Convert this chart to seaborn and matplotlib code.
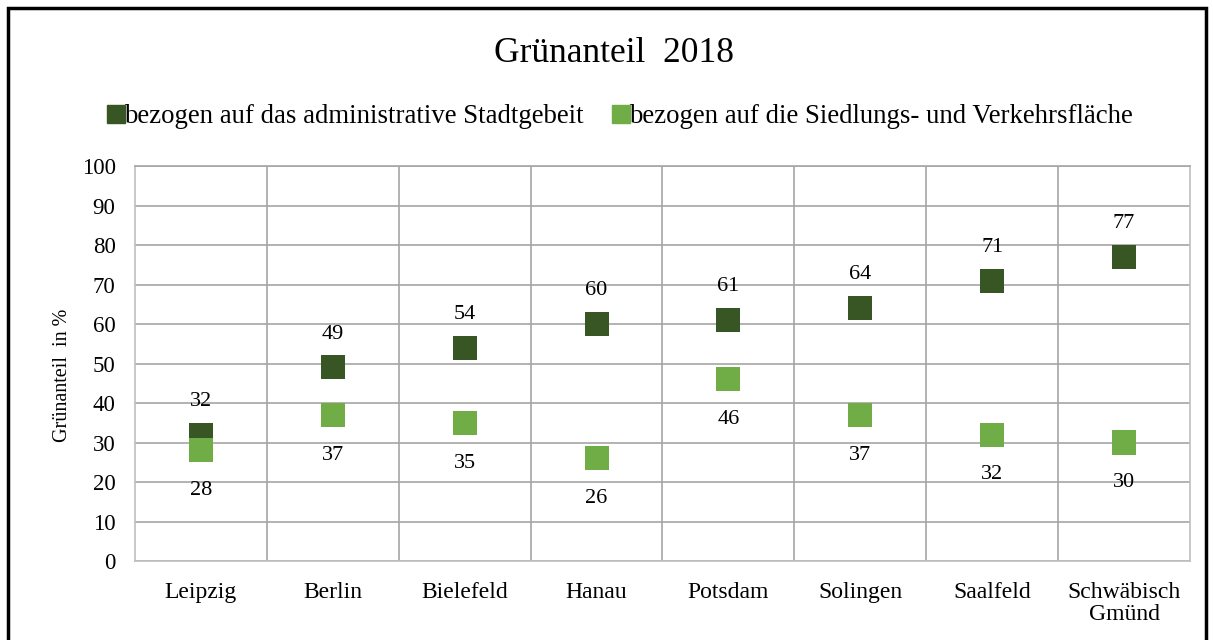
import pandas as pd
import matplotlib.pyplot as plt
import seaborn as sns
from matplotlib.patches import Rectangle
from matplotlib.lines import Line2D

# data
staedte = ["Leipzig", "Berlin", "Bielefeld", "Hanau", "Potsdam",
           "Solingen", "Saalfeld", "Schwäbisch\nGmünd"]
stadtgebiet = [32, 49, 54, 60, 61, 64, 71, 77]
siedlungsflaeche = [28, 37, 35, 26, 46, 37, 32, 30]
serien = ["bezogen auf das administrative Stadtgebeit",
          "bezogen auf die Siedlungs- und Verkehrsfläche"]
farben = ["#375623", "#70AD47"]

df = pd.DataFrame({
    "Stadt": staedte * 2,
    "Wert": stadtgebiet + siedlungsflaeche,
    "Serie": [serien[0]] * len(staedte) + [serien[1]] * len(staedte),
})

sns.set_theme(style="white")
plt.rcParams["font.family"] = ["Liberation Serif", "DejaVu Serif"]
plt.rcParams["text.color"] = "black"
plt.rcParams["xtick.color"] = "black"
plt.rcParams["ytick.color"] = "black"
plt.rcParams["axes.labelcolor"] = "black"

fig = plt.figure(figsize=(12.13, 6.4), dpi=100)
ax = fig.add_axes([0.1113, 0.1234, 0.8697, 0.6172])

sns.scatterplot(data=df, x="Stadt", y="Wert", hue="Serie", palette=farben,
                marker="s", s=300, linewidth=0, ax=ax, legend=False, zorder=3)

ax.set_xlim(-0.5, len(staedte) - 0.5)
ax.set_ylim(0, 100)
ax.set_yticks(range(0, 101, 10))
ax.set_xticks(range(len(staedte)))
ax.set_xticklabels(staedte, fontsize=17, linespacing=1.1)
ax.tick_params(axis="y", labelsize=16.5, length=0, pad=14)
ax.tick_params(axis="x", length=0, pad=15)
ax.set_xticks([i + 0.5 for i in range(len(staedte) - 1)], minor=True)
ax.grid(axis="y", color="#a6a6a6", linewidth=1.2)
ax.grid(axis="x", which="minor", color="#a6a6a6", linewidth=1.2)
ax.set_axisbelow(True)
for sp in ax.spines.values():
    sp.set_color("#bfbfbf")
    sp.set_linewidth(1.2)
ax.spines["top"].set_color("#a6a6a6")

ax.set_xlabel("")
ax.set_ylabel("Grünanteil  in %", fontsize=14.5)
ax.yaxis.set_label_coords(-0.060, 0.47)

# value labels: dark series above, light series below
for i, v in enumerate(stadtgebiet):
    ax.annotate(str(v), (i, v), xytext=(0, 24), textcoords="offset points",
                ha="center", va="center", fontsize=16)
for i, v in enumerate(siedlungsflaeche):
    ax.annotate(str(v), (i, v), xytext=(0, -29), textcoords="offset points",
                ha="center", va="center", fontsize=16)

fig.text(0.506, 0.916, "Grünanteil  2018", ha="center", va="center", fontsize=25.5)

handles = [Line2D([], [], marker="s", linestyle="", color=c, markersize=13)
           for c in farben]
fig.legend(handles, serien, loc="center", bbox_to_anchor=(0.509, 0.818),
           ncol=2, frameon=False, fontsize=19.3, handletextpad=-0.2,
           columnspacing=0.9, handlelength=1.0)

# black frame around the chart
fig.patches.append(Rectangle((0.007, -0.05), 0.987, 1.037, transform=fig.transFigure,
                             fill=False, edgecolor="black", linewidth=2.5))

fig.savefig("out.png", dpi=100)
